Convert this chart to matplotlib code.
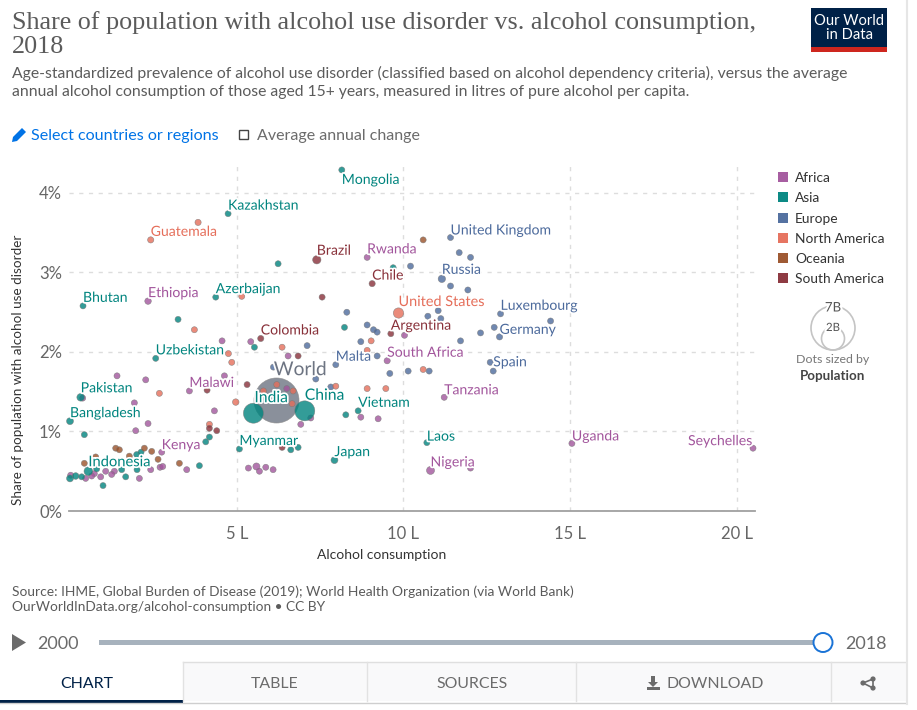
import matplotlib
matplotlib.use("Agg")
import matplotlib.pyplot as plt
import matplotlib.patheffects as pe
from matplotlib.patches import Rectangle, Circle, Polygon

plt.rcParams['font.family'] = ['Lato', 'DejaVu Sans']

# ---------- data (litres per capita, % prevalence) ----------
CONTINENTS = ['Africa', 'Asia', 'Europe', 'North America', 'Oceania', 'South America']
COLORS = ['#A2559C', '#00847E', '#4C6A9C', '#E56E5A', '#9A5129', '#883039']

africa_x = [2.34, 8.91, 10.81, 11.22, 9.51, 15.05, 20.48, 10.03, 8.72, 9.24, 12.01, 4.56, 5.42, 6.54, 4.63, 1.41, 2.27,
            3.58, 0.38, 1.93, 4.33, 2.34, 1.97, 6.50, 7.22, 6.92, 2.75, 2.70, 2.78, 2.42, 3.50, 2.08, 1.33, 1.25, 1.07,
            0.92, 0.73, 0.65, 0.47, 0.02, 5.35, 5.59, 5.68, 5.87, 6.09]
africa_y = [2.64, 3.19, 0.51, 1.43, 1.89, 0.85, 0.79, 2.21, 1.18, 1.16, 0.54, 2.14, 2.13, 1.95, 1.70, 1.70, 1.65,
            1.51, 1.42, 1.36, 1.26, 1.10, 1.01, 1.54, 1.17, 1.09, 0.74, 0.55, 0.56, 0.52, 0.52, 0.41, 0.50, 0.46, 0.50,
            0.43, 0.47, 0.44, 0.41, 0.45, 0.54, 0.56, 0.50, 0.55, 0.52]
africa_s = [22, 19, 33, 19, 20, 19, 19, 19, 19, 19, 19, 19, 19, 19, 19, 19, 19,
            19, 19, 19, 19, 19, 19, 19, 19, 19, 19, 19, 19, 19, 19, 19, 19, 19, 19,
            19, 19, 19, 19, 19, 19, 26, 19, 19, 19]

asia_x = [8.15, 4.74, 0.39, 4.37, 6.24, 3.24, 8.23, 2.57, 5.53, 0.32, 0.00, 0.43, 8.64, 8.27, 5.50, 7.04, 5.08, 6.62,
          6.84, 7.93, 10.70, 4.18, 4.07, 3.88, 0.55, 0.00, 0.17, 0.35, 0.99, 1.67, 2.01, 1.55, 0.80, 2.00, 2.13, 9.69]
asia_y = [4.29, 3.74, 2.58, 2.69, 3.11, 2.41, 2.31, 1.92, 2.06, 1.43, 1.13, 0.96, 1.26, 1.21, 1.23, 1.26, 0.78, 0.77,
          0.80, 0.64, 0.86, 0.93, 0.87, 0.57, 0.50, 0.41, 0.44, 0.43, 0.32, 0.43, 0.52, 0.52, 0.53, 0.71, 0.74, 3.06]
asia_s = [19, 19, 19, 19, 19, 19, 19, 19, 19, 30, 25, 19, 19, 19, 207, 207, 19, 19,
          19, 25, 19, 19, 19, 19, 39, 25, 23, 19, 19, 19, 19, 19, 19, 19, 19, 19]

europe_x = [11.41, 11.67, 12.01, 10.21, 11.15, 11.41, 11.93, 11.04, 10.73, 11.12, 12.91, 14.41, 12.72, 12.31, 12.88,
            11.71, 8.91, 9.10, 9.21, 8.72, 9.21, 7.97, 7.11, 9.59, 10.14, 10.77, 12.60, 12.69, 7.37, 7.82, 6.10, 8.30]
europe_y = [3.44, 3.25, 3.19, 3.08, 2.92, 2.83, 2.78, 2.52, 2.45, 2.42, 2.48, 2.39, 2.31, 2.24, 2.19,
            2.14, 2.34, 2.28, 2.25, 2.13, 1.95, 1.84, 2.08, 1.73, 1.76, 1.76, 1.87, 1.76, 1.66, 1.56, 1.81, 2.50]
europe_s = [19, 19, 19, 19, 28, 19, 19, 19, 19, 19, 19, 19, 19, 19, 20,
            19, 19, 19, 19, 19, 19, 19, 19, 19, 19, 19, 19, 19, 19, 19, 19, 19]

namerica_x = [9.85, 2.42, 3.84, 5.15, 3.73, 9.03, 8.91, 10.59, 8.91, 9.47, 4.75, 4.85, 6.36, 2.68, 4.97, 4.18, 6.20,
              5.80, 6.69, 6.66, 7.97]
namerica_y = [2.49, 3.41, 3.63, 2.70, 2.28, 2.14, 2.02, 1.78, 1.54, 1.54, 1.98, 1.87, 2.06, 1.48, 1.37, 1.09, 1.59,
              1.51, 1.51, 1.35, 1.57]
namerica_s = [55, 20, 20, 19, 19, 19, 19, 19, 19, 19, 19, 19, 19, 19, 22, 19, 19, 19, 19, 19, 19]

oceania_x = [10.59, 1.37, 1.48, 2.23, 2.45, 1.78, 0.77, 0.43, 2.64, 3.28]
oceania_y = [3.41, 0.79, 0.77, 0.79, 0.75, 0.69, 0.68, 0.60, 0.65, 0.60]
oceania_s = [19, 19, 19, 19, 19, 19, 19, 19, 19, 19]

samerica_x = [7.40, 9.06, 7.56, 9.62, 5.72, 6.84, 5.31, 4.11, 4.18, 4.40, 6.36]
samerica_y = [3.16, 2.86, 2.69, 2.23, 2.17, 1.95, 1.59, 1.52, 1.04, 1.01, 0.80]
samerica_s = [36, 20, 19, 19, 20, 19, 19, 19, 19, 19, 19]

world_x, world_y, world_s = 6.18, 1.40, 1050

X_TICKS = [5, 10, 15, 20]
X_TICK_LABELS = ['5 L', '10 L', '15 L', '20 L']
Y_TICKS = [0, 1, 2, 3, 4]
Y_TICK_LABELS = ['0%', '1%', '2%', '3%', '4%']

# country label: name, continent, value it belongs to
label_names = ['Mongolia', 'Kazakhstan', 'Guatemala', 'Brazil', 'Rwanda', 'Chile', 'United Kingdom', 'Russia', 'Bhutan',
               'Ethiopia', 'Azerbaijan', 'United States', 'Luxembourg', 'Argentina', 'Germany', 'Colombia', 'Uzbekistan',
               'Malta', 'South Africa', 'Spain', 'Pakistan', 'Malawi', 'Tanzania', 'India', 'China', 'Vietnam',
               'Bangladesh', 'Laos', 'Uganda', 'Seychelles', 'Kenya', 'Myanmar', 'Japan', 'Nigeria', 'Indonesia']
label_cont = [1, 1, 3, 5, 0, 5, 2, 2, 1, 0, 1, 3, 2, 5, 2, 5, 1, 2, 0, 2, 1, 0, 0, 1, 1, 1, 1, 1, 0, 0, 0, 1, 1, 0, 1]
label_x = [8.15, 4.74, 2.42, 7.40, 8.91, 9.06, 11.41, 11.15, 0.39, 2.34, 4.37, 9.85, 12.91, 9.62, 12.88, 5.72, 2.57,
           7.97, 9.51, 12.60, 0.32, 3.58, 11.22, 5.50, 7.04, 8.64, 0.00, 10.70, 15.05, 20.48, 2.75, 5.08, 7.93, 10.81, 0.55]
label_y = [4.29, 3.74, 3.41, 3.16, 3.19, 2.86, 3.44, 2.92, 2.58, 2.64, 2.69, 2.49, 2.48, 2.23, 2.19, 2.17, 1.92,
           1.84, 1.89, 1.87, 1.43, 1.51, 1.43, 1.23, 1.26, 1.26, 1.13, 0.86, 0.85, 0.79, 0.74, 0.78, 0.64, 0.51, 0.50]
# label offset from its dot, pixels (right, up)
label_dx = [0, 0, 0, 0, 0, 0, 0, 0, 0, 0, 0, 0, 0, 0, 0, 0, 0, 0, 0, 3, 0, 0, 0, 1, 0, 0, 0, 0, 0, -65, 0, 0, 0, 0, 0]
label_dy = [-9, 9, 9, 10, 9, 9, 8, 10, 9, 9, 9, 12, 9, 9, 8, 9, 9, 9, 9, 1, 10, 9, 8, 16, 16, 9, 9, 7, 8, 8, 8, 9, 9, 9, 10]
label_size = [10.1] * 35
label_size[label_names.index('India')] = 11.3
label_size[label_names.index('China')] = 11.3
label_size[label_names.index('Indonesia')] = 10.6
label_size[label_names.index('United States')] = 10.4

W, H = 917, 710
fig = plt.figure(figsize=(W / 100, H / 100), dpi=100, facecolor='white')

# ---------- page furniture, in pixel coordinates ----------
bg = fig.add_axes([0, 0, 1, 1])
bg.set_xlim(0, W)
bg.set_ylim(H, 0)
bg.axis('off')

GREY = '#5b5b5b'
bg.text(12, 23, 'Share of population with alcohol use disorder vs. alcohol consumption,',
        family=['Liberation Serif', 'DejaVu Serif'], fontsize=18.8, color=GREY, va='center')
bg.text(12, 47, '2018', family=['Liberation Serif', 'DejaVu Serif'], fontsize=18.8, color=GREY, va='center')
bg.text(12, 73, 'Age-standardized prevalence of alcohol use disorder (classified based on alcohol dependency criteria), versus the average',
        fontsize=11.35, color=GREY, va='center')
bg.text(12, 92, 'annual alcohol consumption of those aged 15+ years, measured in litres of pure alcohol per capita.',
        fontsize=11.35, color=GREY, va='center')

# logo
bg.add_patch(Rectangle((811, 8), 76, 39, fc='#002147', ec='none'))
bg.add_patch(Rectangle((811, 47), 76, 5, fc='#ce261e', ec='none'))
bg.text(849, 28, 'Our World\nin Data', color='white', fontsize=10.6, ha='center', va='center', linespacing=1.0)

# controls
bg.add_patch(Polygon([[12, 142], [13, 137], [22, 128], [26, 132], [17, 141]], fc='#0073e6', ec='none'))
bg.text(31, 136, 'Select countries or regions', color='#0073e6', fontsize=11.6, va='center')
bg.add_patch(Rectangle((238.5, 129.5), 9.5, 9.5, fc='white', ec='#444444', lw=1))
bg.text(257, 136, 'Average annual change', color='#6b6b6b', fontsize=11.5, va='center')

# legend
for yy, name, col in zip([177, 197, 218, 238, 258, 278], CONTINENTS, COLORS):
    bg.add_patch(Rectangle((778, yy - 5), 10, 10, fc=col, ec='none', alpha=0.95))
    bg.text(795, yy + 0.8, name, color='#333333', fontsize=9.9, va='center')

bg.add_patch(Circle((833, 328), 22, fc='none', ec='#c4c4c4', lw=1.2))
bg.add_patch(Circle((833, 338.5), 11.5, fc='none', ec='#c4c4c4', lw=1.2))
bg.text(833, 307.5, '7B', color='#555555', fontsize=9.5, ha='center', va='center',
        path_effects=[pe.withStroke(linewidth=3, foreground='white')])
bg.text(833, 327.5, '2B', color='#555555', fontsize=8.2, ha='center', va='center',
        path_effects=[pe.withStroke(linewidth=3, foreground='white')])
bg.text(833, 359.5, 'Dots sized by', color='#777777', fontsize=8.9, ha='center', va='center')
bg.text(833, 375.5, 'Population', color='#444444', fontsize=9.6, fontweight='bold', ha='center', va='center')

# axis titles
bg.text(382, 555, 'Alcohol consumption', color='#333333', fontsize=10, ha='center', va='center')
bg.text(18, 370, 'Share of population with alcohol use disorder', color='#333333', fontsize=9.75,
        rotation=90, ha='center', va='center')

# footer
bg.text(12, 592, 'Source: IHME, Global Burden of Disease (2019); World Health Organization (via World Bank)',
        color=GREY, fontsize=9.93, va='center')
bg.text(12, 607, 'OurWorldInData.org/alcohol-consumption • CC BY', color=GREY, fontsize=9.93, va='center')

# timeline
bg.add_patch(Polygon([[12, 634], [12, 651], [26, 642.5]], fc='#6b6b6b', ec='none'))
bg.text(37, 644, '2000', color='#6b6b6b', fontsize=13, va='center')
bg.text(845, 644, '2018', color='#6b6b6b', fontsize=13, va='center')
bg.add_patch(Rectangle((99, 640), 724, 5, fc='#a7b2bd', ec='none'))
bg.add_patch(Circle((823, 642.5), 9.5, fc='white', ec='#1a73d6', lw=1.4, zorder=3))

# tabs
bg.add_patch(Rectangle((183, 662), 723, 39, fc='#f9f9fa', ec='none'))
bg.plot([183, 906], [662, 662], color='#dfdfdf', lw=1)
for xx in [183, 367, 576, 831]:
    bg.plot([xx, xx], [662, 701], color='#e2e2e2', lw=1)
bg.add_patch(Rectangle((0, 700), 183, 2.5, fc='#002147', ec='none'))
bg.plot([0, 906], [703, 703], color='#cfcfcf', lw=1)
bg.plot([907, 907], [0, 704], color='#e6e6e6', lw=1.5)
bg.text(87, 684.5, 'CHART', color='#002147', fontsize=11.4, ha='center', va='center')
bg.text(275, 684.5, 'TABLE', color='#6b6b6b', fontsize=11.4, ha='center', va='center')
bg.text(472, 684.5, 'SOURCES', color='#6b6b6b', fontsize=11.4, ha='center', va='center')
bg.text(667, 684.5, 'DOWNLOAD', color='#6b6b6b', fontsize=11.4, ha='left', va='center')
bg.add_patch(Polygon([[651, 676], [655, 676], [655, 682], [658, 682], [653, 687], [648, 682], [651, 682]],
                     fc='#6b6b6b', ec='none'))
bg.add_patch(Rectangle((647, 687), 13, 3, fc='#6b6b6b', ec='none'))
bg.plot([863, 873, 873, 863], [683, 679, 688, 683], color='#6b6b6b', lw=1.2)
for px, py in [(863, 683), (873, 679), (873, 688)]:
    bg.add_patch(Circle((px, py), 2.6, fc='#6b6b6b', ec='none'))

# ---------- chart ----------
L, R, T, B = 69, 755, 165, 511
ax = fig.add_axes([L / W, 1 - B / H, (R - L) / W, (B - T) / H])
ax.patch.set_alpha(0)
ax.set_xlim(-0.03, 20.54)
ax.set_ylim(0, 4.352)
for sp in ['top', 'right', 'left']:
    ax.spines[sp].set_visible(False)
ax.spines['bottom'].set_color('#a0a0a0')
ax.spines['bottom'].set_linewidth(1.3)
ax.set_xticks(X_TICKS, X_TICK_LABELS)
ax.set_yticks(Y_TICKS, Y_TICK_LABELS)
ax.tick_params(length=0, labelsize=12, labelcolor='#666666')
ax.tick_params(axis='x', pad=11)
ax.tick_params(axis='y', pad=5)
ax.grid(True, color='#dddddd', lw=1, ls=(0, (3, 4)), zorder=0)
ax.set_axisbelow(True)

series = [(africa_x, africa_y, africa_s), (asia_x, asia_y, asia_s), (europe_x, europe_y, europe_s),
          (namerica_x, namerica_y, namerica_s), (oceania_x, oceania_y, oceania_s),
          (samerica_x, samerica_y, samerica_s)]

ax.scatter([world_x], [world_y], s=world_s, color='#6D7482', alpha=0.8, edgecolors='#8a8a8a', linewidths=0.5,
           zorder=2, clip_on=False)
for (xs, ys, ss), col in zip(series, COLORS):
    ax.scatter(xs, ys, s=ss, color=col, alpha=0.8, edgecolors='#777777', linewidths=0.4, zorder=3, clip_on=False)

halo = [pe.withStroke(linewidth=2.5, foreground='white')]
for name, c, x, y, dx, dy, fs in zip(label_names, label_cont, label_x, label_y, label_dx, label_dy, label_size):
    ax.annotate(name, (x, y), xytext=(dx, dy - 1), textcoords='offset pixels', color=COLORS[c], fontsize=fs,
                ha='left', va='center', path_effects=halo, zorder=5, annotation_clip=False)
ax.annotate('World', (world_x, world_y), xytext=(24, 30), textcoords='offset pixels', color='#6D7482', fontsize=13.8,
            ha='center', va='center', path_effects=halo, zorder=5)

fig.savefig('out.png', dpi=100)
